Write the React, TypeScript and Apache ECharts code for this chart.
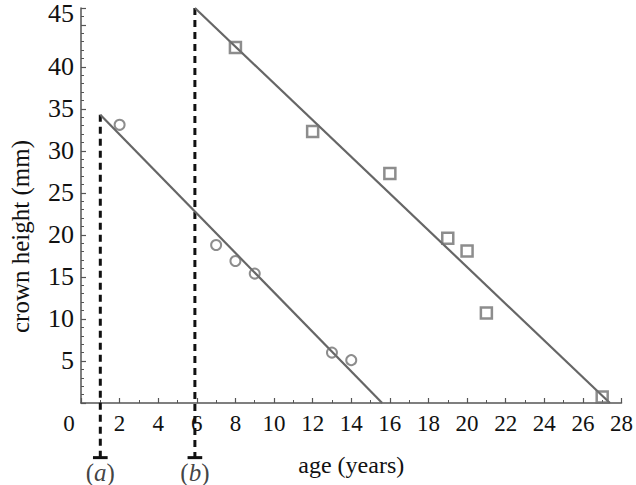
import React, { useEffect, useRef } from "react";
import * as echarts from "echarts";

// Group (a): circles
const ageA = [2, 7, 8, 9, 13, 14];
const heightA = [33.1, 18.8, 16.9, 15.4, 6.0, 5.1];
// Group (b): squares
const ageB = [8, 12, 16, 19, 20, 21, 27];
const heightB = [42.3, 32.3, 27.3, 19.6, 18.1, 10.7, 0.7];
// Fitted lines: [start, end]
const fitA = [[1.0, 34.3], [15.6, 0]];
const fitB = [[5.9, 47.0], [27.4, 0]];
// Eruption marks (dashed lines)
const markAges = [1.0, 5.9];
const markTops = [34.3, 47.0];
const markBottom = -6.5;
const markLabels = ["a", "b"];
const xTicks = [0, 2, 4, 6, 8, 10, 12, 14, 16, 18, 20, 22, 24, 26, 28];
const yTicks = [5, 10, 15, 20, 25, 30, 35, 40, 45];

const FONT = "'Liberation Serif', 'DejaVu Serif', serif";
const TXT = "#111111";
const GRAY = "#666666";
const MARK = "#707070";

export default function App() {
  const ref = useRef<HTMLDivElement>(null);
  useEffect(() => {
    if (!ref.current) return;
    const chart = echarts.init(ref.current, null, { renderer: "svg" });
    const dashed: any[] = [];
    const bars: any[] = [];
    markAges.forEach((x, i) => {
      dashed.push({
        type: "line",
        data: [[x, markTops[i]], [x, markBottom]],
        symbol: "none",
        clip: false,
        z: 1,
        lineStyle: { color: "#111", width: 3, type: [7, 5] },
      });
      bars.push({
        type: "line",
        data: [[x - 0.38, markBottom], [x + 0.38, markBottom]],
        symbol: "none",
        clip: false,
        lineStyle: { color: "#111", width: 3 },
      });
    });
    const labelSeries = {
      type: "scatter",
      data: markAges.map((x, i) => ({ value: [x, markBottom], name: markLabels[i] })),
      symbolSize: 0,
      clip: false,
      label: {
        show: true,
        position: "bottom",
        distance: 2,
        formatter: (p: any) => "({i|" + p.name + "})",
        fontFamily: FONT,
        fontSize: 25,
        color: TXT,
        rich: { i: { fontStyle: "italic", fontFamily: FONT, fontSize: 25, color: TXT } },
      },
    };
    chart.setOption({
      animation: false,
      backgroundColor: "#ffffff",
      grid: { left: 78, right: 11, top: 8, bottom: 82 },
      xAxis: [
        {
          type: "value",
          min: 0,
          max: 28,
          interval: 2,
          axisLine: { show: true, onZero: false, lineStyle: { color: "#555", width: 1.5 } },
          axisTick: { show: true, inside: true, length: 5, lineStyle: { color: "#555", width: 1.2 } },
          splitLine: { show: false },
          axisLabel: {
            margin: 9,
            fontFamily: FONT,
            fontSize: 23,
            color: TXT,
            formatter: (v: number) =>
              xTicks.includes(v) ? (v === 0 ? "{z|0}" : String(v)) : "",
            rich: { z: { padding: [0, 24, 0, 0], fontFamily: FONT, fontSize: 23, color: TXT } },
          },
          name: "age (years)",
          nameLocation: "middle",
          nameGap: 50,
          nameTextStyle: { fontFamily: FONT, fontSize: 24, color: TXT },
        },
        {
          type: "value",
          position: "bottom",
          min: 0,
          max: 28,
          interval: 1,
          axisLine: { show: false },
          axisTick: { show: true, inside: true, length: 3, lineStyle: { color: "#555", width: 1 } },
          axisLabel: { show: false },
          splitLine: { show: false },
        },
      ],
      yAxis: [
        {
          type: "value",
          min: 0,
          max: 47,
          interval: 5,
          axisLine: { show: true, onZero: false, lineStyle: { color: "#555", width: 1.5 } },
          axisTick: { show: true, inside: true, length: 5, lineStyle: { color: "#555", width: 1.2 } },
          splitLine: { show: false },
          axisLabel: {
            margin: 7,
            fontFamily: FONT,
            fontSize: 26,
            color: TXT,
            formatter: (v: number) =>
              yTicks.includes(v) ? (v === 45 ? "{t|45}" : String(v)) : "",
            rich: { t: { padding: [0, 0, 22, 0], fontFamily: FONT, fontSize: 26, color: TXT } },
          },
          name: "crown height (mm)",
          nameLocation: "middle",
          nameGap: 48,
          nameTextStyle: { fontFamily: FONT, fontSize: 25, color: TXT, padding: [0, 62, 0, 0] },
        },
        {
          type: "value",
          position: "left",
          min: 0,
          max: 47,
          interval: 1,
          axisLine: { show: false },
          axisTick: { show: true, inside: true, length: 3, lineStyle: { color: "#555", width: 1 } },
          axisLabel: { show: false },
          splitLine: { show: false },
        },
      ],
      series: [
        ...dashed,
        ...bars,
        labelSeries,
        {
          type: "line",
          data: fitA,
          symbol: "none",
          lineStyle: { color: GRAY, width: 2.2 },
        },
        {
          type: "line",
          data: fitB,
          symbol: "none",
          lineStyle: { color: GRAY, width: 2.2 },
        },
        {
          type: "scatter",
          data: ageA.map((x, i) => [x, heightA[i]]),
          symbol: "circle",
          symbolSize: 10,
          itemStyle: { color: "rgba(255,255,255,0)", borderColor: MARK, borderWidth: 2 },
          z: 5,
        },
        {
          type: "scatter",
          data: ageB.map((x, i) => [x, heightB[i]]),
          symbol: "rect",
          symbolSize: 11,
          clip: false,
          itemStyle: { color: "rgba(255,255,255,0)", borderColor: MARK, borderWidth: 2.5 },
          z: 5,
        },
      ],
    });
    return () => chart.dispose();
  }, []);
  return (
    <div
      ref={ref}
      style={{ position: "fixed", left: 0, top: 0, width: 636, height: 485, background: "#fff" }}
    />
  );
}
